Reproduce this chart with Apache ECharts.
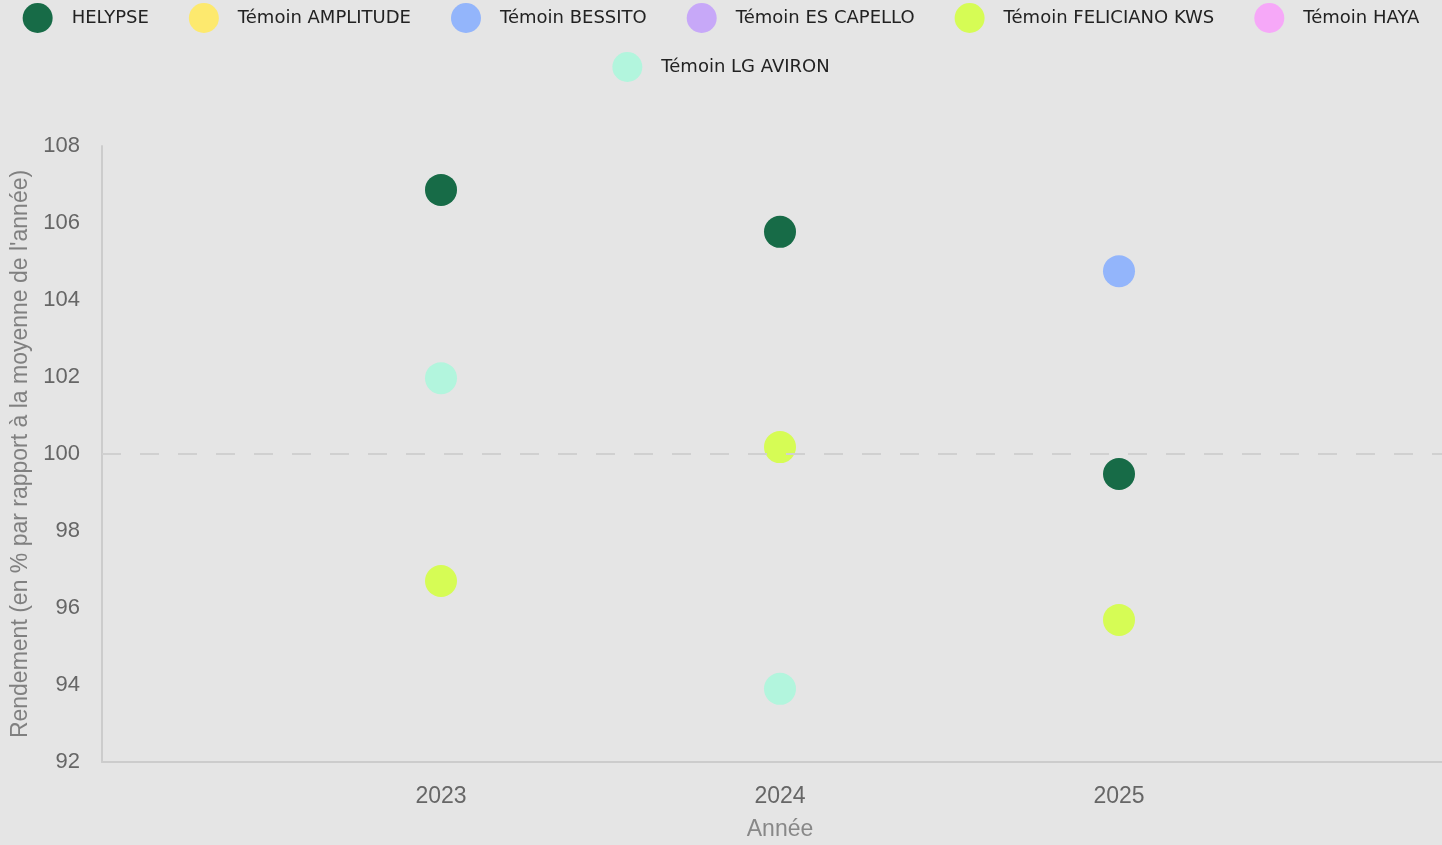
<!DOCTYPE html>
<html>
<head>
<meta charset="utf-8">
<script src="https://cdn.jsdelivr.net/npm/echarts@6/dist/echarts.min.js"></script>
<style>
  html, body { margin: 0; padding: 0; background: #e5e5e5; }
  #chart { width: 1442px; height: 845px; }
</style>
</head>
<body>
<div id="chart"></div>
<script>
// années (axe x)
const years = [2023, 2024, 2025]

// rendements en % de la moyenne de l'année (null = pas de donnée)
const helypse = [106.86, 105.77, 99.48]
const amplitude = [null, null, null]
const bessito = [null, null, 104.75]
const esCapello = [null, null, null]
const felicianoKws = [96.7, 100.18, 95.69]
const haya = [null, null, null]
const lgAviron = [101.97, 93.9, null]

const yTicks = [92, 94, 96, 98, 100, 102, 104, 106, 108]
const refLine = 100

const seriesDefs = [
  { name: 'HELYPSE', values: helypse, color: '#176b47' },
  { name: 'Témoin AMPLITUDE', values: amplitude, color: '#fde96e' },
  { name: 'Témoin BESSITO', values: bessito, color: '#93b5fb' },
  { name: 'Témoin ES CAPELLO', values: esCapello, color: '#c7a8f8' },
  { name: 'Témoin FELICIANO KWS', values: felicianoKws, color: '#d6fc55' },
  { name: 'Témoin HAYA', values: haya, color: '#f6a8f8' },
  { name: 'Témoin LG AVIRON', values: lgAviron, color: '#b2f5dd' }
]

const chart = echarts.init(document.getElementById('chart'))

const series = seriesDefs.map(function(s, i) {
  const item = {
    name: s.name,
    type: 'scatter',
    symbol: 'circle',
    symbolSize: 32,
    itemStyle: { color: s.color, opacity: 1 },
    data: years.map(function(y, j) { return [y, s.values[j]] }).filter(function(d) { return d[1] != null })
  }
  if (i === 0) {
    item.markLine = {
      silent: true,
      symbol: 'none',
      label: { show: false },
      lineStyle: { color: '#d0d0d0', width: 2, type: [19, 19] },
      data: [{ yAxis: refLine }]
    }
  }
  return item
})

const names = seriesDefs.map(function(s) { return s.name })

function legendRow(top, data) {
  return {
    top: top,
    left: 'center',
    padding: 0,
    itemWidth: 30,
    itemHeight: 30,
    itemGap: 40,
    icon: 'circle',
    textStyle: {
      fontFamily: 'DejaVu Sans',
      fontSize: 18,
      color: '#222',
      padding: [0, 0, 0, 14]
    },
    data: data
  }
}

chart.setOption({
  backgroundColor: '#e5e5e5',
  animation: false,
  legend: [legendRow(3, names.slice(0, 6)), legendRow(52, names.slice(6))],
  grid: { left: 102, width: 1356, top: 146, bottom: 83, outerBoundsMode: 'none' },
  xAxis: {
    type: 'value',
    min: 2022,
    max: 2026,
    interval: 1,
    name: 'Année',
    nameLocation: 'middle',
    nameGap: 56,
    nameTextStyle: { fontFamily: 'Liberation Sans', fontSize: 23, color: '#888' },
    axisLine: { show: true, lineStyle: { color: '#cccccc', width: 2 } },
    axisTick: { show: false },
    splitLine: { show: false },
    axisLabel: {
      margin: 23,
      fontFamily: 'Liberation Sans',
      fontSize: 23,
      color: '#666',
      showMinLabel: false,
      showMaxLabel: false,
      formatter: function(v) { return years.indexOf(v) >= 0 ? String(v) : '' }
    }
  },
  yAxis: {
    type: 'value',
    min: yTicks[0],
    max: yTicks[yTicks.length - 1],
    interval: 2,
    name: "Rendement (en % par rapport à la moyenne de l'année)",
    nameLocation: 'middle',
    nameGap: 69,
    nameTextStyle: { fontFamily: 'Liberation Sans', fontSize: 23, color: '#808080' },
    axisLine: { show: true, lineStyle: { color: '#cccccc', width: 2 } },
    axisTick: { show: false },
    splitLine: { show: false },
    axisLabel: {
      margin: 22,
      fontFamily: 'Liberation Sans',
      fontSize: 22,
      color: '#666'
    }
  },
  series: series
})
</script>
</body>
</html>
